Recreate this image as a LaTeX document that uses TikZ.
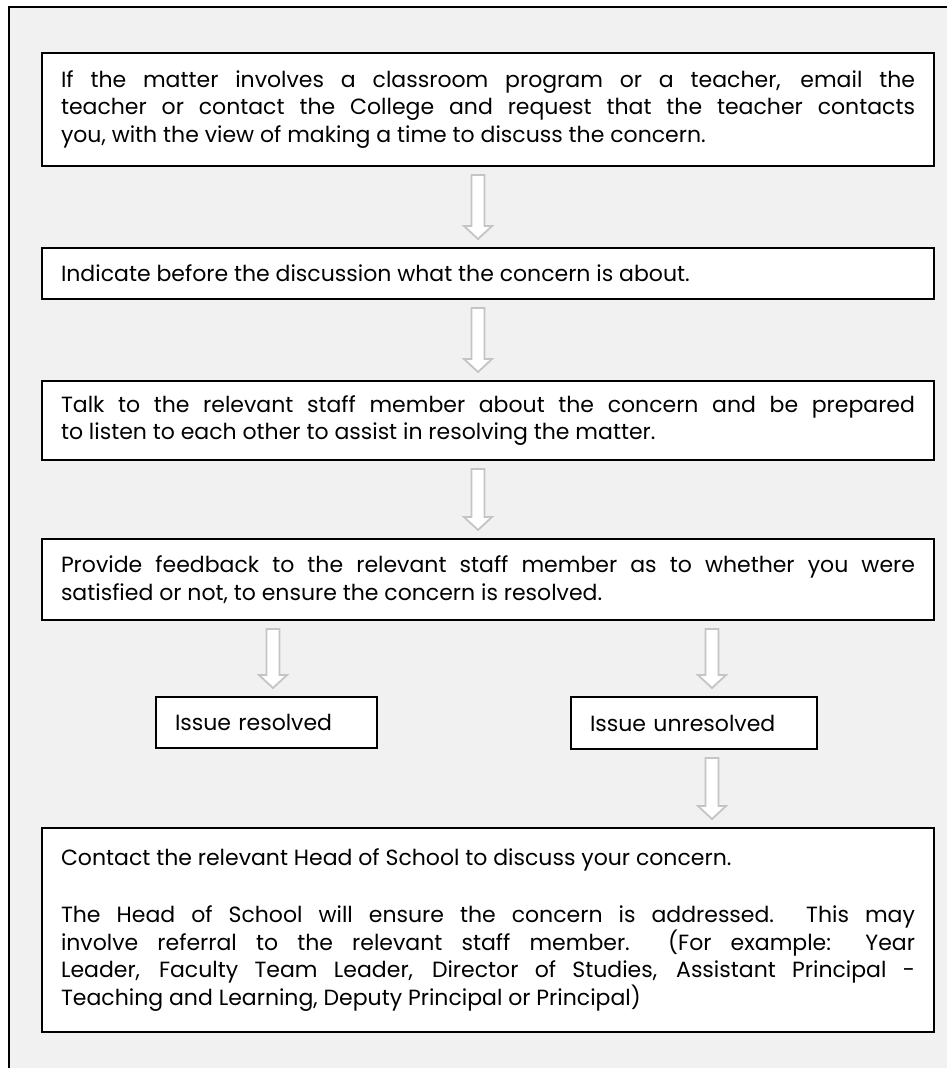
\documentclass[tikz,border=0pt]{standalone}
\usepackage{fontspec}
\setmainfont{Poppins}
\usetikzlibrary{calc}
\definecolor{bggray}{HTML}{F1F1F1}
\definecolor{arrgray}{HTML}{C4C4C4}
\newcommand\bodyfont{\fontsize{22}{27.5}\selectfont}
\newcommand\hollowarrow[3]{%
  \draw[harrow] let \p1=(#2), \p2=(#3) in
  ({#1pt-6.5pt},{\y1-9pt}) -- ({#1pt+6.5pt},{\y1-9pt}) -- ({#1pt+6.5pt},{\y2+22pt})
  -- ({#1pt+14pt},{\y2+22pt}) -- ({#1pt},{\y2+9pt}) -- ({#1pt-14pt},{\y2+22pt})
  -- ({#1pt-6.5pt},{\y2+22pt}) -- cycle;}
\begin{document}
\begin{tikzpicture}[x=1pt,y=-1pt,
  box/.style={draw=black, line width=1.8pt, fill=white, anchor=north west,
    outer sep=0pt, inner xsep=19pt, inner ysep=0pt, align=justify, font=\bodyfont},
  harrow/.style={draw=arrgray, line width=1.8pt, fill=white, line join=miter}]
\useasboundingbox (0,0) rectangle (947,1068);
\fill[white] (0,0) rectangle (947,1068);
\begin{scope}
\clip (0,0) rectangle (947,1068);
\draw[line width=2.5pt, fill=bggray] (9,7) rectangle (990,1100);
\end{scope}

\node[box, text width=854pt, minimum height=113pt] (b1) at (42,53)
 {If the matter involves a classroom program or a teacher, email the\linebreak
  teacher or contact the College and request that the teacher contacts\linebreak
  you, with the view of making a time to discuss the concern.};

\node[box, text width=854pt, minimum height=51pt] (b2) at (42,248)
 {Indicate before the discussion what the concern is about.};

\node[box, text width=854pt, minimum height=79pt] (b3) at (42,381)
 {Talk to the relevant staff member about the concern and be prepared\linebreak
  to listen to each other to assist in resolving the matter.};

\node[box, text width=854pt, minimum height=81pt] (b4) at (42,539)
 {Provide feedback to the relevant staff member as to whether you were\linebreak
  satisfied or not, to ensure the concern is resolved.};

\node[box, text width=183pt, minimum height=51pt, align=left] (res) at (156,697)
 {Issue resolved};

\node[box, text width=208pt, minimum height=52pt, align=left] (unres) at (571,697)
 {Issue unresolved};

\node[box, text width=854pt, minimum height=204pt] (b5) at (42,828)
 {Contact the relevant Head of School to discuss your concern.\par
  \vskip 30pt
  The Head of School will ensure the concern is addressed.\ \ This may\linebreak
  involve referral to the relevant staff member.\ \ (For example: Year\linebreak
  Leader, Faculty Team Leader, Director of Studies, Assistant Principal -\linebreak
  Teaching and Learning, Deputy Principal or Principal)};

\hollowarrow{478}{b1.south}{b2.north}
\hollowarrow{478}{b2.south}{b3.north}
\hollowarrow{478}{b3.south}{b4.north}
\hollowarrow{273}{b4.south}{res.north}
\hollowarrow{712}{b4.south}{unres.north}
\hollowarrow{712}{unres.south}{b5.north}
\end{tikzpicture}
\end{document}
